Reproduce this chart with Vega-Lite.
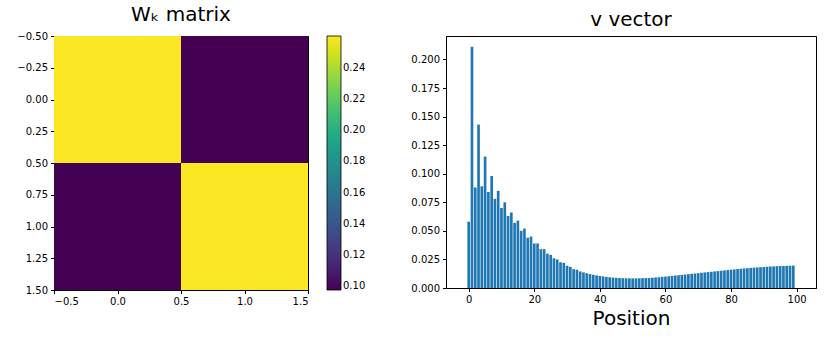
{
  "$schema": "https://vega.github.io/schema/vega-lite/v6.json",
  "padding": {"left": 16, "top": 4, "right": 5, "bottom": 5},
  "background": "white",
  "spacing": 43,
  "resolve": {"legend": {"color": "independent"}, "scale": {"color": "independent"}},
  "config": {
    "font": "DejaVu Sans",
    "view": {"stroke": "black", "strokeWidth": 1},
    "axis": {"grid": false, "domainColor": "black", "tickColor": "black", "labelColor": "black", "labelFontSize": 10, "tickSize": 3.5, "labelPadding": 3, "labelFont": "DejaVu Sans", "titleFont": "DejaVu Sans", "titleColor": "black", "titleFontWeight": "normal"},
    "title": {"font": "DejaVu Sans", "fontSize": 20, "fontWeight": "normal", "color": "black", "offset": 6}
  },
  "hconcat": [
    {
      "title": "Wₖ matrix",
      "width": 254,
      "height": 254,
      "data": {"values": [
        {"x0": -0.5, "x1": 0.5, "y0": -0.5, "y1": 0.5, "w": 0.2603},
        {"x0": 0.5, "x1": 1.5, "y0": -0.5, "y1": 0.5, "w": 0.0977},
        {"x0": -0.5, "x1": 0.5, "y0": 0.5, "y1": 1.5, "w": 0.0977},
        {"x0": 0.5, "x1": 1.5, "y0": 0.5, "y1": 1.5, "w": 0.2603}
      ]},
      "mark": {"type": "rect", "strokeWidth": 0},
      "encoding": {
        "x": {"field": "x0", "type": "quantitative", "scale": {"domain": [-0.5, 1.5], "nice": false, "zero": false},
              "axis": {"values": [-0.5, 0, 0.5, 1.0, 1.5], "format": ".1f", "title": null}},
        "x2": {"field": "x1"},
        "y": {"field": "y0", "type": "quantitative", "scale": {"domain": [-0.5, 1.5], "nice": false, "zero": false, "reverse": true},
              "axis": {"values": [-0.5, -0.25, 0, 0.25, 0.5, 0.75, 1.0, 1.25, 1.5], "format": ".2f", "title": null}},
        "y2": {"field": "y1"},
        "color": {"field": "w", "type": "quantitative",
                  "scale": {"scheme": "viridis", "domain": [0.0975, 0.2605], "nice": false, "zero": false},
                  "legend": {"title": null, "values": [0.10, 0.12, 0.14, 0.16, 0.18, 0.20, 0.22, 0.24], "format": ".2f",
                             "gradientLength": 254, "gradientThickness": 14, "gradientStrokeColor": "black", "gradientStrokeWidth": 0.8,
                             "offset": 19, "labelFontSize": 10, "labelColor": "black", "labelFont": "DejaVu Sans", "labelOverlap": false, "padding": 0}}
      }
    },
    {
      "title": "v vector",
      "width": 370,
      "height": 252,
      "data": {"values": [
        {"pos": 0, "v": 0.058}, {"pos": 1, "v": 0.211}, {"pos": 2, "v": 0.088}, {"pos": 3, "v": 0.143},
        {"pos": 4, "v": 0.089}, {"pos": 5, "v": 0.115}, {"pos": 6, "v": 0.084}, {"pos": 7, "v": 0.098},
        {"pos": 8, "v": 0.078}, {"pos": 9, "v": 0.085}, {"pos": 10, "v": 0.070}, {"pos": 11, "v": 0.075},
        {"pos": 12, "v": 0.063}, {"pos": 13, "v": 0.066}, {"pos": 14, "v": 0.057}, {"pos": 15, "v": 0.059},
        {"pos": 16, "v": 0.050}, {"pos": 17, "v": 0.052}, {"pos": 18, "v": 0.044}, {"pos": 19, "v": 0.045},
        {"pos": 20, "v": 0.039}, {"pos": 21, "v": 0.039}, {"pos": 22, "v": 0.034}, {"pos": 23, "v": 0.034},
        {"pos": 24, "v": 0.030}, {"pos": 25, "v": 0.029}, {"pos": 26, "v": 0.026}, {"pos": 27, "v": 0.025},
        {"pos": 28, "v": 0.0225}, {"pos": 29, "v": 0.022}, {"pos": 30, "v": 0.0195}, {"pos": 31, "v": 0.0185},
        {"pos": 32, "v": 0.0165}, {"pos": 33, "v": 0.016}, {"pos": 34, "v": 0.0145}, {"pos": 35, "v": 0.0137},
        {"pos": 36, "v": 0.0129}, {"pos": 37, "v": 0.0122}, {"pos": 38, "v": 0.0116}, {"pos": 39, "v": 0.0110},
        {"pos": 40, "v": 0.0105}, {"pos": 41, "v": 0.0101}, {"pos": 42, "v": 0.0097}, {"pos": 43, "v": 0.0094},
        {"pos": 44, "v": 0.0091}, {"pos": 45, "v": 0.0089}, {"pos": 46, "v": 0.0087}, {"pos": 47, "v": 0.0086},
        {"pos": 48, "v": 0.0085}, {"pos": 49, "v": 0.0084}, {"pos": 50, "v": 0.0084}, {"pos": 51, "v": 0.0084},
        {"pos": 52, "v": 0.0085}, {"pos": 53, "v": 0.0086}, {"pos": 54, "v": 0.0087}, {"pos": 55, "v": 0.0088},
        {"pos": 56, "v": 0.0090}, {"pos": 57, "v": 0.0092}, {"pos": 58, "v": 0.0094}, {"pos": 59, "v": 0.0097},
        {"pos": 60, "v": 0.0100}, {"pos": 61, "v": 0.0103}, {"pos": 62, "v": 0.0106}, {"pos": 63, "v": 0.0109},
        {"pos": 64, "v": 0.0112}, {"pos": 65, "v": 0.0115}, {"pos": 66, "v": 0.0118}, {"pos": 67, "v": 0.0121},
        {"pos": 68, "v": 0.0124}, {"pos": 69, "v": 0.0127}, {"pos": 70, "v": 0.0130}, {"pos": 71, "v": 0.0133},
        {"pos": 72, "v": 0.0136}, {"pos": 73, "v": 0.0139}, {"pos": 74, "v": 0.0142}, {"pos": 75, "v": 0.0145},
        {"pos": 76, "v": 0.0148}, {"pos": 77, "v": 0.0151}, {"pos": 78, "v": 0.0154}, {"pos": 79, "v": 0.0157},
        {"pos": 80, "v": 0.0160}, {"pos": 81, "v": 0.0163}, {"pos": 82, "v": 0.0166}, {"pos": 83, "v": 0.0169},
        {"pos": 84, "v": 0.0171}, {"pos": 85, "v": 0.0174}, {"pos": 86, "v": 0.0176}, {"pos": 87, "v": 0.0178},
        {"pos": 88, "v": 0.0180}, {"pos": 89, "v": 0.0182}, {"pos": 90, "v": 0.0184}, {"pos": 91, "v": 0.0186},
        {"pos": 92, "v": 0.0188}, {"pos": 93, "v": 0.0189}, {"pos": 94, "v": 0.0191}, {"pos": 95, "v": 0.0192},
        {"pos": 96, "v": 0.0193}, {"pos": 97, "v": 0.0194}, {"pos": 98, "v": 0.0195}, {"pos": 99, "v": 0.0196}
      ]},
      "mark": {"type": "bar", "color": "#1f77b4", "width": 2.67},
      "encoding": {
        "x": {"field": "pos", "type": "quantitative", "scale": {"domain": [-5.4, 104.4], "nice": false, "zero": false},
              "axis": {"values": [0, 20, 40, 60, 80, 100], "format": "d", "title": "Position", "titleFontSize": 20, "titlePadding": 4}},
        "y": {"field": "v", "type": "quantitative", "scale": {"domain": [0, 0.2205], "nice": false},
              "axis": {"values": [0, 0.025, 0.05, 0.075, 0.1, 0.125, 0.15, 0.175, 0.2], "format": ".3f", "title": null}}
      }
    }
  ]
}
